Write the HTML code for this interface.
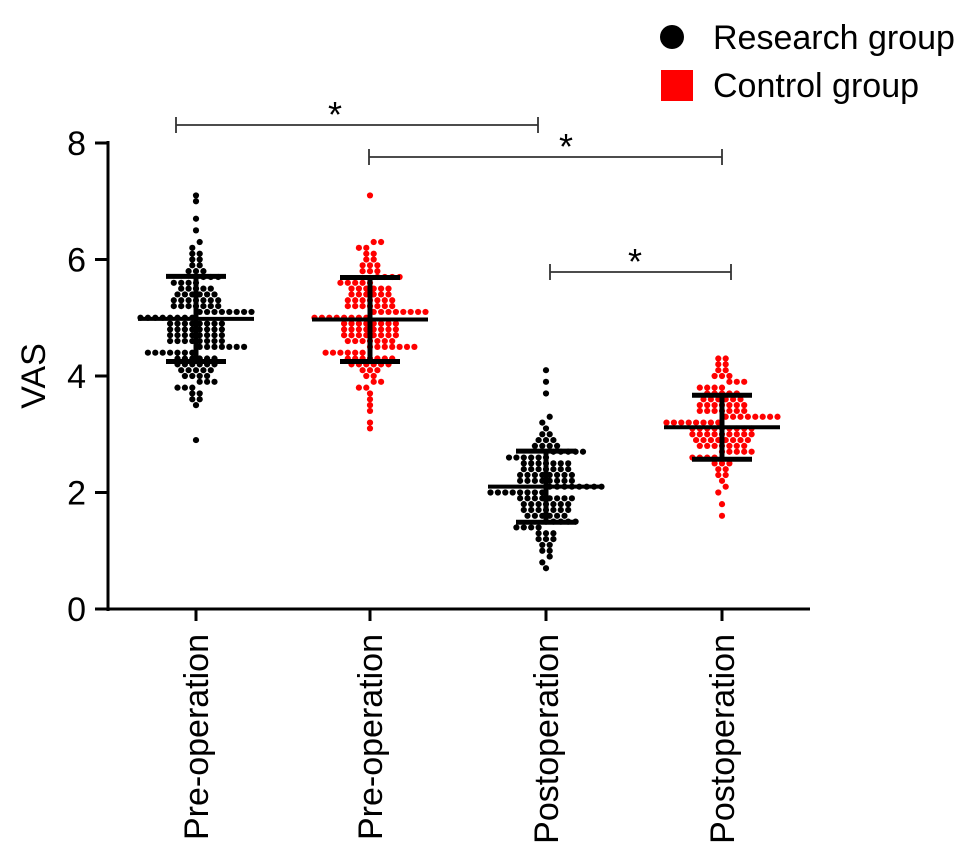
<!DOCTYPE html>
<html><head><meta charset="utf-8"><style>
body{margin:0;background:#fff}
svg{display:block;font-family:"Liberation Sans",Arial,sans-serif}
</style></head><body>
<svg id="chart" width="969" height="854" viewBox="0 0 969 854">
<g id="axes"></g>
<g id="marks"></g>
<g id="legend">
 <circle cx="672" cy="37" r="12" fill="#000"/>
 <text x="713" y="49" font-size="34">Research group</text>
 <rect x="661" y="70" width="32" height="31" fill="#f00"/>
 <text x="713" y="97" font-size="34">Control group</text>
</g>
</svg>
<script>
const categories=["Pre-operation","Pre-operation","Postoperation","Postoperation"];
const groupColors=["#000","#f00","#000","#f00"];
const yTicks=[0,2,4,6,8];
const researchPre=[2.9,3.5,3.6,3.6,3.7,3.7,3.8,3.8,3.8,3.9,3.9,3.9,4.0,4.0,4.0,4.0,4.1,4.1,4.1,4.1,4.1,4.2,4.2,4.2,4.2,4.2,4.2,4.3,4.3,4.3,4.3,4.3,4.3,4.4,4.4,4.4,4.4,4.4,4.4,4.4,4.5,4.5,4.5,4.5,4.5,4.5,4.5,4.6,4.6,4.6,4.6,4.6,4.6,4.6,4.6,4.7,4.7,4.7,4.7,4.7,4.7,4.7,4.7,4.8,4.8,4.8,4.8,4.8,4.8,4.8,4.8,4.9,4.9,4.9,4.9,4.9,4.9,4.9,4.9,5.0,5.0,5.0,5.0,5.0,5.0,5.0,5.0,5.1,5.1,5.1,5.1,5.1,5.1,5.1,5.1,5.2,5.2,5.2,5.2,5.2,5.2,5.2,5.3,5.3,5.3,5.3,5.3,5.3,5.3,5.4,5.4,5.4,5.4,5.4,5.4,5.5,5.5,5.5,5.5,5.5,5.6,5.6,5.6,5.6,5.7,5.7,5.7,5.8,5.8,5.8,5.9,5.9,6.0,6.0,6.1,6.1,6.2,6.3,6.5,6.7,7.0,7.1];
const controlPre=[3.1,3.2,3.4,3.5,3.6,3.7,3.8,3.8,3.9,3.9,4.0,4.0,4.1,4.1,4.1,4.2,4.2,4.2,4.2,4.2,4.2,4.3,4.3,4.3,4.3,4.3,4.3,4.3,4.4,4.4,4.4,4.4,4.4,4.4,4.5,4.5,4.5,4.5,4.5,4.5,4.5,4.6,4.6,4.6,4.6,4.6,4.6,4.6,4.7,4.7,4.7,4.7,4.7,4.7,4.7,4.7,4.8,4.8,4.8,4.8,4.8,4.8,4.8,4.8,4.9,4.9,4.9,4.9,4.9,4.9,4.9,4.9,5.0,5.0,5.0,5.0,5.0,5.0,5.0,5.0,5.1,5.1,5.1,5.1,5.1,5.1,5.1,5.1,5.2,5.2,5.2,5.2,5.2,5.2,5.2,5.3,5.3,5.3,5.3,5.3,5.3,5.3,5.4,5.4,5.4,5.4,5.4,5.4,5.5,5.5,5.5,5.5,5.5,5.5,5.6,5.6,5.6,5.6,5.6,5.7,5.7,5.7,5.7,5.8,5.8,5.8,5.9,5.9,5.9,6.0,6.0,6.1,6.1,6.2,6.2,6.3,6.3,7.1];
const researchPost=[0.7,0.8,0.9,1.0,1.0,1.1,1.1,1.2,1.2,1.2,1.3,1.3,1.3,1.4,1.4,1.4,1.4,1.5,1.5,1.5,1.5,1.5,1.6,1.6,1.6,1.6,1.6,1.6,1.7,1.7,1.7,1.7,1.7,1.7,1.7,1.8,1.8,1.8,1.8,1.8,1.8,1.8,1.9,1.9,1.9,1.9,1.9,1.9,1.9,1.9,2.0,2.0,2.0,2.0,2.0,2.0,2.0,2.0,2.1,2.1,2.1,2.1,2.1,2.1,2.1,2.1,2.2,2.2,2.2,2.2,2.2,2.2,2.2,2.2,2.3,2.3,2.3,2.3,2.3,2.3,2.3,2.3,2.4,2.4,2.4,2.4,2.4,2.4,2.4,2.5,2.5,2.5,2.5,2.5,2.5,2.5,2.6,2.6,2.6,2.6,2.6,2.6,2.7,2.7,2.7,2.7,2.7,2.8,2.8,2.8,2.8,2.9,2.9,2.9,3.0,3.0,3.1,3.2,3.3,3.7,3.9,4.1];
const controlPost=[1.6,1.8,2.0,2.1,2.2,2.3,2.3,2.4,2.4,2.5,2.5,2.5,2.6,2.6,2.6,2.6,2.7,2.7,2.7,2.7,2.7,2.8,2.8,2.8,2.8,2.8,2.8,2.8,2.9,2.9,2.9,2.9,2.9,2.9,2.9,2.9,3.0,3.0,3.0,3.0,3.0,3.0,3.0,3.0,3.0,3.1,3.1,3.1,3.1,3.1,3.1,3.1,3.1,3.1,3.2,3.2,3.2,3.2,3.2,3.2,3.2,3.2,3.3,3.3,3.3,3.3,3.3,3.3,3.3,3.3,3.4,3.4,3.4,3.4,3.4,3.4,3.4,3.5,3.5,3.5,3.5,3.5,3.5,3.5,3.6,3.6,3.6,3.6,3.6,3.6,3.7,3.7,3.7,3.7,3.7,3.8,3.8,3.8,3.8,3.9,3.9,3.9,4.0,4.0,4.0,4.1,4.1,4.2,4.2,4.3,4.3];
const series=[researchPre,controlPre,researchPost,controlPost];
const groupMeans=[4.98,4.97,2.1,3.12];
const groupSDs=[0.73,0.72,0.61,0.55];
const sigFrom=[0,1,2];
const sigTo=[2,3,3];

const NS="http://www.w3.org/2000/svg";
const X0=108,X1=810,Y0=609,Y1=143;
const catX=[196,370,546,722];
function yScale(v){return Y0-(v/8)*(Y0-Y1);}
function xScale(i){return catX[i];}
function mk(tag,attrs,parent){const e=document.createElementNS(NS,tag);for(const k in attrs)e.setAttribute(k,attrs[k]);parent.appendChild(e);return e;}
const axes=document.getElementById('axes'),marks=document.getElementById('marks');

let el=mk('line',{x1:X0,y1:Y1-2,x2:X0,y2:Y0+2,stroke:'#000','stroke-width':3},axes);


el=mk('line',{x1:95,y1:Y0,x2:X1,y2:Y0,stroke:'#000','stroke-width':3},axes);


yTicks.forEach(t=>{
 const y=yScale(t);
 let tk=mk('line',{x1:95,y1:y,x2:X0,y2:y,stroke:'#000','stroke-width':3},axes);
 
 
 let tx=mk('text',{x:86,y:y+12,'font-size':34,'text-anchor':'end'},axes);
 tx.textContent=t;
 
 
});
let yt=mk('text',{x:0,y:0,'font-size':34,'text-anchor':'middle',transform:'translate(45,376) rotate(-90)'},axes);
yt.textContent='VAS';


categories.forEach((c,i)=>{
 const x=xScale(i);
 let tk=mk('line',{x1:x,y1:Y0,x2:x,y2:621,stroke:'#000','stroke-width':3},axes);
 
 
 let tx=mk('text',{x:0,y:0,'font-size':34,'text-anchor':'end',transform:`translate(${x+12},634) rotate(-90)`},axes);
 tx.textContent=c;
 
 
});

series.forEach((vals,i)=>{
 const cx=xScale(i);
 const rows={};
 vals.forEach(v=>{const r=Math.round(yScale(v)/7);(rows[r]=rows[r]||[]).push(v);});
 for(const r in rows){
  const k=rows[r].length;
  rows[r].forEach((v,j)=>{
   const off=(j-(k-1)/2)*7.4;
   let d=mk('circle',{cx:cx+off,cy:yScale(v),r:3.1,fill:groupColors[i]},marks);
   
   
  });
 }
 const mean=groupMeans[i],sd=groupSDs[i];
 const ym=yScale(mean),yh=yScale(mean+sd),yl=yScale(mean-sd);
 let v=mk('line',{x1:cx,y1:yh,x2:cx,y2:yl,stroke:'#000','stroke-width':5},marks);
 
 
 let m=mk('line',{x1:cx-58,y1:ym,x2:cx+58,y2:ym,stroke:'#000','stroke-width':4},marks);
 
 
 [yh,yl].forEach(yy=>{
  let c=mk('line',{x1:cx-30,y1:yy,x2:cx+30,y2:yy,stroke:'#000','stroke-width':5},marks);
  
  
 });
});

const sigY=[125,157,272];
const sigX1=[176,369,550],sigX2=[538,722,731];
const starX=[335,566,635];
sigFrom.forEach((f,k)=>{
 const x1=sigX1[k],x2=sigX2[k],y=sigY[k];
 let p=mk('path',{d:`M${x1},${y-8}V${y+8}M${x1},${y}H${x2}M${x2},${y-8}V${y+8}`,stroke:'#333','stroke-width':1.8,fill:'none'},marks);
 
 
 let s=mk('text',{x:starX[k],y:y+2,'font-size':36,'text-anchor':'middle'},marks);
 s.textContent='*';
 
 
});
</script>
</body></html>
